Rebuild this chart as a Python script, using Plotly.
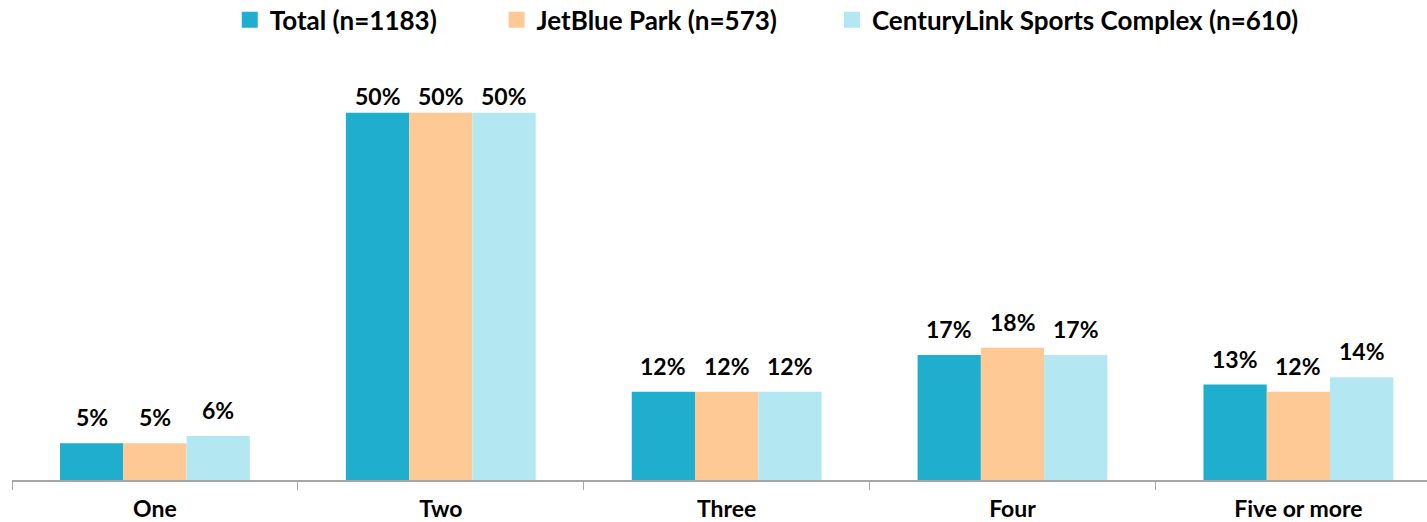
import plotly.graph_objects as go

categories = ["One", "Two", "Three", "Four", "Five or more"]
series_names = ["Total (n=1183)", "JetBlue Park (n=573)", "CenturyLink Sports Complex (n=610)"]
total = [5, 50, 12, 17, 13]
jetblue = [5, 50, 12, 18, 12]
centurylink = [6, 50, 12, 17, 14]
colors = ["#20AECF", "#FFC996", "#B3E8F3"]
# left edge of each legend box, as a fraction of the page width
legend_x = [0.161, 0.348, 0.583]

FONT = "Lato, Carlito, Calibri, sans-serif"
WIDTH, HEIGHT = 1427, 522
MARGIN = {"l": 12, "r": 0, "t": 98, "b": 42}
Y_MAX = 52
BARGAP = 0.336
LABEL_GAP = 26      # px from bar top to label centre
LABEL_CEILING = 96  # labels never go above this (px from the top)

plot_height = HEIGHT - MARGIN["t"] - MARGIN["b"]
px_per_unit = plot_height / Y_MAX
bar_width = (1 - BARGAP) / len(series_names)

fig = go.Figure()
for i, (name, values, color) in enumerate(zip(series_names, [total, jetblue, centurylink], colors)):
    legend_id = "legend" if i == 0 else f"legend{i + 1}"
    fig.add_trace(go.Bar(
        x=categories,
        y=values,
        name=name,
        marker={"color": color, "line": {"width": 0}},
        showlegend=False,
        hovertemplate="%{x}: %{y}%<extra>" + name + "</extra>",
    ))
    # legend-only square swatch, bigger than the default bar icon
    fig.add_trace(go.Scatter(
        x=[None],
        y=[None],
        mode="markers",
        name=name,
        marker={"color": color, "symbol": "square", "size": 16},
        legend=legend_id,
        hoverinfo="skip",
    ))
    fig.update_layout({legend_id: {
        "orientation": "h",
        "x": legend_x[i],
        "xref": "container",
        "xanchor": "left",
        "y": 0.962,
        "yref": "container",
        "yanchor": "middle",
        "itemsizing": "trace",
        "bgcolor": "rgba(0,0,0,0)",
        "font": {"family": FONT, "size": 26, "color": "#000000", "weight": "bold"},
    }})
    # value labels sit well above the bars, but tall ones get pushed down under the top
    offset = (i - (len(series_names) - 1) / 2) * bar_width
    for j, v in enumerate(values):
        bar_top = MARGIN["t"] + (Y_MAX - v) * px_per_unit
        shift = min(LABEL_GAP, bar_top - LABEL_CEILING)
        fig.add_annotation(
            x=j + offset,
            y=v,
            xref="x",
            yref="y",
            text=f"{v}%",
            showarrow=False,
            yanchor="middle",
            yshift=shift,
            font={"family": FONT, "size": 23, "color": "#000000", "weight": "bold"},
        )

fig.update_layout(
    width=WIDTH,
    height=HEIGHT,
    barmode="group",
    bargap=BARGAP,
    bargroupgap=0,
    plot_bgcolor="white",
    paper_bgcolor="white",
    margin=MARGIN,
    font={"family": FONT, "color": "#000000"},
)
fig.update_xaxes(
    range=[-0.5, 4.45],
    automargin=False,
    showline=True,
    linecolor="#A6A6A6",
    linewidth=1.5,
    ticks="outside",
    tickson="boundaries",
    ticklen=8,
    tickcolor="#A6A6A6",
    ticklabelstandoff=8,
    tickfont={"family": FONT, "size": 23, "color": "#000000", "weight": "bold"},
    showgrid=False,
)
fig.update_yaxes(range=[0, Y_MAX], visible=False, showgrid=False, automargin=False)

# the page's default body margin would push the chart 8px right and down
fig.write_html(
    "out.html",
    config={"displayModeBar": False},
    post_script="document.body.style.margin = '0';",
)
